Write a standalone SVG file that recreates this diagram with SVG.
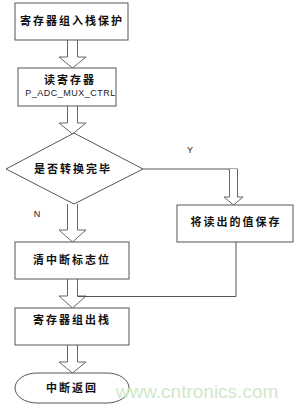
<svg xmlns="http://www.w3.org/2000/svg" width="300" height="408" viewBox="0 0 300 408">
<style>
.box{fill:#fff;stroke:#555;stroke-width:1}
.arr{fill:#fff;stroke:#666;stroke-width:1}
.ln{fill:none;stroke:#555;stroke-width:1}
.cn{font-family:"Noto Sans CJK SC","Liberation Sans",sans-serif;font-size:11px;font-weight:bold;fill:#111;letter-spacing:2px;text-anchor:middle}
.en{font-family:"Liberation Sans",Arial,sans-serif;font-size:9px;fill:#222;text-anchor:middle}
</style>
<rect width="300" height="408" fill="#fff"/>
<g id="connectors">
<path class="arr" d="M67.5,40 V57 H59 L72.5,68 L86,57 H77.5 V40"/>
<path class="arr" d="M67.5,106 V123 H59 L72.5,134 L86,123 H77.5 V106"/>
<path class="arr" d="M67.5,204 V230 H59 L72.5,242 L86,230 H77.5 V204"/>
<path class="arr" d="M67.5,279 V296 H59 L72.5,308 L86,296 H77.5 V279"/>
<path class="arr" d="M67.5,345 V362 H59 L72.5,373 L86,362 H77.5 V345"/>
<path class="ln" d="M143,169 H237.5"/>
<path class="arr" d="M229.5,169 V197 H224 L233.5,205 L243,197 H237.5 V169"/>
<path class="ln" d="M236,242 V296.5 H77.5"/>
</g>
<g id="n1"><rect class="box" x="15" y="3" width="113" height="37"/><text class="cn" x="72" y="25">寄存器组入栈保护</text></g>
<g id="n2"><rect class="box" x="18" y="68" width="98" height="38"/><text class="cn" x="70" y="84">读寄存器</text><text class="en" x="70.5" y="96" font-size="8.5" letter-spacing="0.5">P_ADC_MUX_CTRL</text></g>
<g id="n3"><polygon class="box" points="74,133 143,169 74,204 6,169"/><text class="cn" x="73" y="173">是否转换完毕</text></g>
<g id="n4"><rect class="box" x="177" y="205" width="116" height="37"/><text class="cn" x="236" y="226">将读出的值保存</text></g>
<g id="n5"><rect class="box" x="15" y="242" width="114" height="37"/><text class="cn" x="72" y="264">清中断标志位</text></g>
<g id="n6"><rect class="box" x="15" y="308" width="114" height="37"/><text class="cn" x="72" y="324">寄存器组出栈</text></g>
<g id="n7"><rect class="box" x="15" y="373" width="114" height="30" rx="22" ry="15"/><text class="cn" x="72" y="392">中断返回</text></g>
<g id="labels">
<text class="en" x="190" y="153">Y</text>
<text class="en" x="37" y="217">N</text>
<text x="197" y="398" font-family="Liberation Sans,Arial,sans-serif" font-size="19" fill="#cfe8c8" text-anchor="middle">www.cntronics.com</text>
</g>
</svg>
